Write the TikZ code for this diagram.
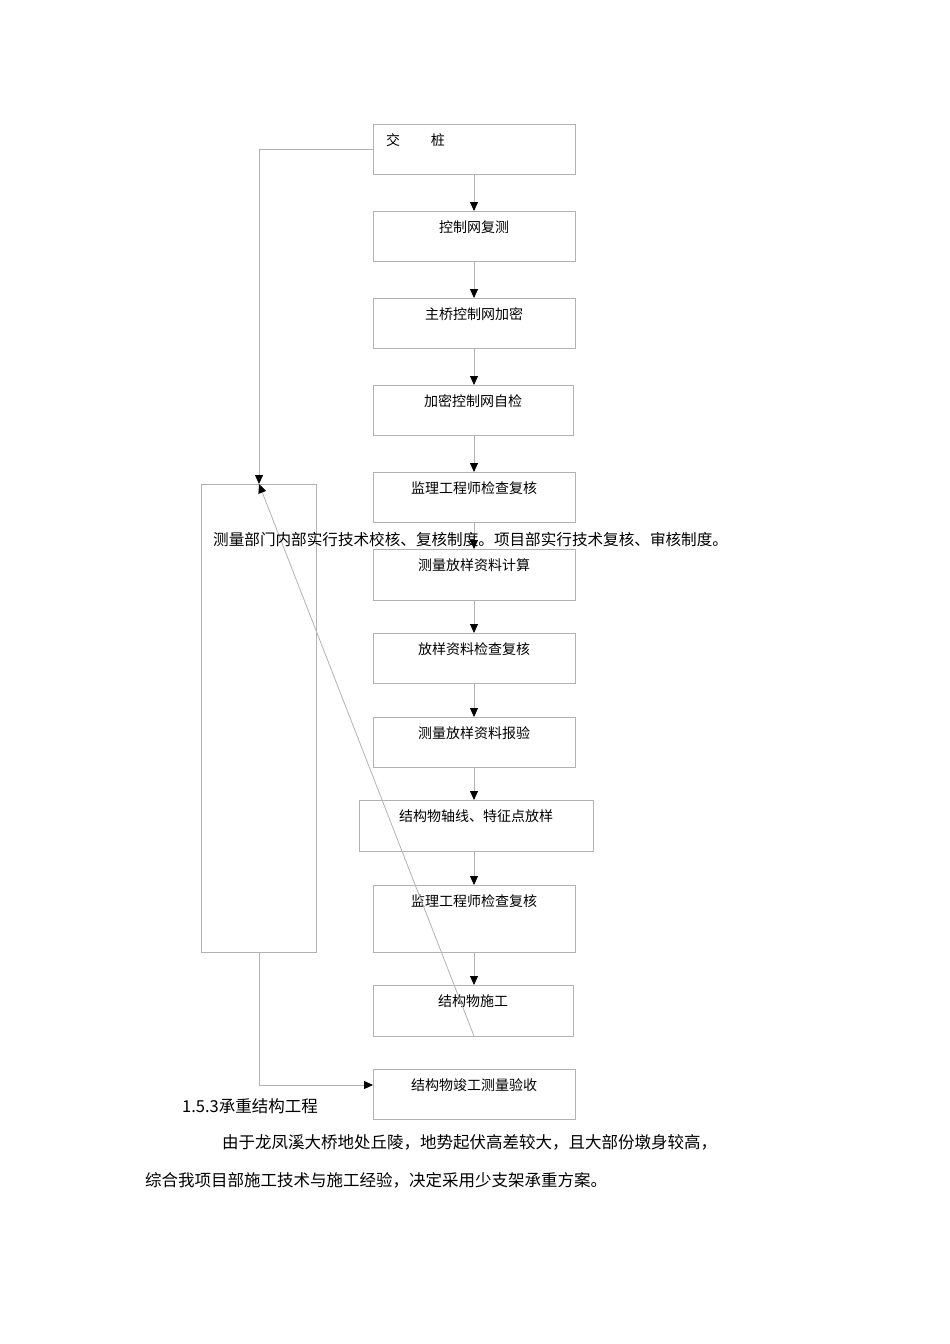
\documentclass[tikz,border=0pt]{standalone}
\usepackage{fontspec}
\newfontfamily\cjk{Noto Sans CJK SC}
\usetikzlibrary{arrows.meta}
\begin{document}
\begin{tikzpicture}[x=1pt,y=-1pt,
  bx/.style={draw=black!30,line width=0.8pt},
  lbl/.style={font=\cjk\fontsize{14}{16}\selectfont,inner sep=0pt},
  ln/.style={draw=black!30,line width=0.8pt},
  ar/.style={ln,-{Triangle[black,length=9pt,width=8pt]}},
  txt/.style={font=\cjk\fontsize{16.5}{18}\selectfont,inner sep=0pt,anchor=west}]
\useasboundingbox (0,0) rectangle (950,1344);
\def\bxs#1#2#3#4#5#6{\path[bx] (#2,#3) rectangle (#4,#5); \node[lbl] (#1) at ({(#2+#4)/2},{#3+16}) {#6};
 \coordinate (#1t) at ({474},#3); \coordinate (#1b) at ({474},#5);}
\bxs{a}{373}{124}{575}{174}{}
\node[lbl,anchor=west] (at) at (386,140) {交\hspace{2.2em}桩};
\bxs{b}{373}{211}{575}{261}{控制网复测}
\bxs{c}{373}{298}{575}{348}{主桥控制网加密}
\bxs{d}{373}{385}{573}{435}{加密控制网自检}
\bxs{e}{373}{472}{575}{522}{监理工程师检查复核}
\bxs{f}{373}{549}{575}{600}{测量放样资料计算}
\bxs{g}{373}{633}{575}{683}{放样资料检查复核}
\bxs{h}{373}{717}{575}{767}{测量放样资料报验}
\bxs{i}{359}{800}{593}{851}{结构物轴线、特征点放样}
\bxs{j}{373}{885}{575}{952}{监理工程师检查复核}
\bxs{k}{373}{985}{573}{1036}{结构物施工}
\bxs{l}{373}{1069}{575}{1119}{结构物竣工测量验收}
\path[bx] (201,484) rectangle (316,952);
\coordinate (lt) at (259,484); \coordinate (lb) at (259,952);
\coordinate (al) at (373,149); \coordinate (ll) at (373,1085);
\foreach \p/\q in {a/b,b/c,c/d,d/e,e/f,f/g,g/h,h/i,i/j,j/k,k/l} \draw[ar] (\p b) -- (\q t);
\draw[ar] (al) -| (lt);
\draw[ar] (lb) |- (ll);
\node[font=\cjk\fontsize{15.6}{18}\selectfont,inner sep=0pt,anchor=west] (ov) at (213,540) {测量部门内部实行技术校核、复核制度。项目部实行技术复核、审核制度。};
\node[txt] (h1) at (182,1106) {1.5.3承重结构工程};
\node[txt] (p1) at (222,1142) {由于龙凤溪大桥地处丘陵，地势起伏高差较大，且大部份墩身较高，};
\node[txt] (p2) at (145,1180) {综合我项目部施工技术与施工经验，决定采用少支架承重方案。};
\end{tikzpicture}
\end{document}
